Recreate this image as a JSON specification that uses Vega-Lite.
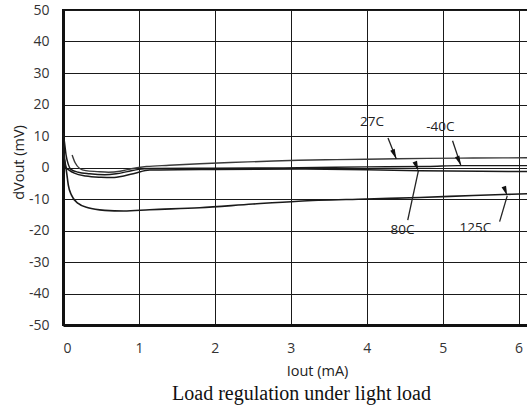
{
  "$schema": "https://vega.github.io/schema/vega-lite/v6.json",
  "autosize": "none",
  "padding": {"left": 63, "top": 10, "right": 0, "bottom": 85},
  "width": 467,
  "height": 315,
  "background": "white",
  "title": {
    "text": "Load regulation under light load",
    "orient": "bottom",
    "anchor": "middle",
    "font": "Liberation Serif",
    "fontSize": 20,
    "fontWeight": "normal",
    "color": "#111111",
    "offset": 6,
    "dx": 5
  },
  "config": {
    "view": {"stroke": "#111111", "strokeWidth": 2},
    "axis": {
      "labelFont": "Open Sans",
      "labelFontSize": 14,
      "labelColor": "#333333",
      "labelOverlap": false,
      "titleFont": "Open Sans",
      "titleFontSize": 14.5,
      "titleFontWeight": "normal",
      "titleColor": "#222222",
      "grid": true,
      "gridColor": "#1a1a1a",
      "gridWidth": 1,
      "gridOpacity": 1,
      "domainColor": "#111111",
      "domainWidth": 3,
      "ticks": false
    }
  },
  "datasets": {
    "curves": [
      {"series": "27C", "I": 0.12, "dV": 4.0},
      {"series": "27C", "I": 0.16, "dV": 1.5},
      {"series": "27C", "I": 0.22, "dV": -0.3},
      {"series": "27C", "I": 0.3, "dV": -1.0},
      {"series": "27C", "I": 0.45, "dV": -1.3},
      {"series": "27C", "I": 0.6, "dV": -1.5},
      {"series": "27C", "I": 0.75, "dV": -1.2},
      {"series": "27C", "I": 0.9, "dV": -0.4},
      {"series": "27C", "I": 1.1, "dV": 0.3},
      {"series": "27C", "I": 1.4, "dV": 0.7},
      {"series": "27C", "I": 1.8, "dV": 1.2},
      {"series": "27C", "I": 2.2, "dV": 1.6},
      {"series": "27C", "I": 2.6, "dV": 1.9},
      {"series": "27C", "I": 3.1, "dV": 2.3},
      {"series": "27C", "I": 3.6, "dV": 2.5},
      {"series": "27C", "I": 4.2, "dV": 2.7},
      {"series": "27C", "I": 4.8, "dV": 2.9},
      {"series": "27C", "I": 5.4, "dV": 3.0},
      {"series": "27C", "I": 6.15, "dV": 3.1},

      {"series": "-40C", "I": 0.0, "dV": 11.0},
      {"series": "-40C", "I": 0.02, "dV": 8.0},
      {"series": "-40C", "I": 0.04, "dV": 4.0},
      {"series": "-40C", "I": 0.07, "dV": 1.0},
      {"series": "-40C", "I": 0.1, "dV": -0.5},
      {"series": "-40C", "I": 0.2, "dV": -1.5},
      {"series": "-40C", "I": 0.35, "dV": -2.0},
      {"series": "-40C", "I": 0.55, "dV": -2.3},
      {"series": "-40C", "I": 0.7, "dV": -2.0},
      {"series": "-40C", "I": 0.85, "dV": -1.3},
      {"series": "-40C", "I": 1.0, "dV": -0.6},
      {"series": "-40C", "I": 1.14, "dV": -0.3},
      {"series": "-40C", "I": 2.0, "dV": -0.2},
      {"series": "-40C", "I": 3.1, "dV": -0.1},
      {"series": "-40C", "I": 4.0, "dV": 0.2},
      {"series": "-40C", "I": 4.8, "dV": 0.3},
      {"series": "-40C", "I": 5.2, "dV": 0.6},
      {"series": "-40C", "I": 6.15, "dV": 0.6},

      {"series": "80C", "I": 0.0, "dV": 6.0},
      {"series": "80C", "I": 0.02, "dV": 2.0},
      {"series": "80C", "I": 0.04, "dV": 0.0},
      {"series": "80C", "I": 0.08, "dV": -0.8},
      {"series": "80C", "I": 0.15, "dV": -1.8},
      {"series": "80C", "I": 0.3, "dV": -2.7},
      {"series": "80C", "I": 0.5, "dV": -3.1},
      {"series": "80C", "I": 0.65, "dV": -3.2},
      {"series": "80C", "I": 0.8, "dV": -2.7},
      {"series": "80C", "I": 0.95, "dV": -1.8},
      {"series": "80C", "I": 1.14, "dV": -0.8},
      {"series": "80C", "I": 2.0, "dV": -0.6},
      {"series": "80C", "I": 3.1, "dV": -0.5},
      {"series": "80C", "I": 4.0, "dV": -0.7},
      {"series": "80C", "I": 4.7, "dV": -1.0},
      {"series": "80C", "I": 5.5, "dV": -1.2},
      {"series": "80C", "I": 6.15, "dV": -1.3},

      {"series": "125C", "I": 0.0, "dV": 7.0},
      {"series": "125C", "I": 0.02, "dV": 3.0},
      {"series": "125C", "I": 0.05, "dV": -2.0},
      {"series": "125C", "I": 0.07, "dV": -5.6},
      {"series": "125C", "I": 0.11, "dV": -8.7},
      {"series": "125C", "I": 0.2, "dV": -11.4},
      {"series": "125C", "I": 0.33, "dV": -12.8},
      {"series": "125C", "I": 0.55, "dV": -13.6},
      {"series": "125C", "I": 0.8, "dV": -13.8},
      {"series": "125C", "I": 1.14, "dV": -13.4},
      {"series": "125C", "I": 1.8, "dV": -12.8},
      {"series": "125C", "I": 2.5, "dV": -11.6},
      {"series": "125C", "I": 3.1, "dV": -10.7},
      {"series": "125C", "I": 4.0, "dV": -10.0},
      {"series": "125C", "I": 4.7, "dV": -9.5},
      {"series": "125C", "I": 5.4, "dV": -8.9},
      {"series": "125C", "I": 6.15, "dV": -8.3}
    ],
    "callouts": [
      {"label": "27C", "lx": 4.07, "ly": 14.4, "x1": 4.28, "y1": 9.4, "x2": 4.39, "y2": 2.7},
      {"label": "-40C", "lx": 4.97, "ly": 13.0, "x1": 5.13, "y1": 8.5, "x2": 5.24, "y2": 0.6},
      {"label": "80C", "lx": 4.47, "ly": -19.8, "x1": 4.54, "y1": -16.7, "x2": 4.68, "y2": -1.1},
      {"label": "125C", "lx": 5.43, "ly": -19.3, "x1": 5.75, "y1": -17.2, "x2": 5.85, "y2": -9.0}
    ]
  },
  "layer": [
    {
      "data": {"name": "curves"},
      "mark": {"type": "line", "interpolate": "monotone", "clip": true},
      "encoding": {
        "x": {
          "field": "I", "type": "quantitative",
          "scale": {"domain": [0, 6.15], "nice": false, "zero": false},
          "axis": {"values": [0, 1, 2, 3, 4, 5, 6], "labelExpr": "'' + datum.value", "title": "Iout (mA)", "labelPadding": 16, "titleX": 254, "titleY": 46, "titleBaseline": "middle"}
        },
        "y": {
          "field": "dV", "type": "quantitative",
          "scale": {"domain": [-50, 50], "nice": false},
          "axis": {"values": [-50, -40, -30, -20, -10, 0, 10, 20, 30, 40, 50], "labelExpr": "'' + datum.value", "title": "dVout (mV)", "labelPadding": 14, "titleX": -44, "titleY": 152, "titleBaseline": "middle", "titleAlign": "center", "titleAngle": -90}
        },
        "detail": {"field": "series"},
        "color": {"field": "series", "type": "nominal", "legend": null,
          "scale": {"domain": ["27C", "-40C", "80C", "125C"], "range": ["#3a3a3a", "#1a1a1a", "#1a1a1a", "#1a1a1a"]}},
        "strokeWidth": {"field": "series", "type": "nominal", "legend": null,
          "scale": {"domain": ["27C", "-40C", "80C", "125C"], "range": [1.4, 1.6, 1.8, 2.4]}}
      }
    },
    {
      "data": {"name": "callouts"},
      "mark": {"type": "rule", "color": "#222222", "strokeWidth": 1.3},
      "encoding": {
        "x": {"field": "x1", "type": "quantitative",
          "axis": {"values": [0, 1, 2, 3, 4, 5, 6], "labelExpr": "'' + datum.value", "title": "Iout (mA)", "labelPadding": 16, "titleX": 254, "titleY": 46, "titleBaseline": "middle"}},
        "y": {"field": "y1", "type": "quantitative",
          "axis": {"values": [-50, -40, -30, -20, -10, 0, 10, 20, 30, 40, 50], "labelExpr": "'' + datum.value", "title": "dVout (mV)", "labelPadding": 14, "titleX": -44, "titleY": 152, "titleBaseline": "middle", "titleAlign": "center", "titleAngle": -90}},
        "x2": {"field": "x2"},
        "y2": {"field": "y2"}
      }
    },
    {
      "data": {"name": "callouts"},
      "mark": {"type": "point", "filled": true, "color": "#111111", "opacity": 1,
        "shape": "M0,0L-0.6,-2.5L0.6,-2.5Z", "size": 64},
      "encoding": {
        "x": {"field": "x2", "type": "quantitative",
          "axis": {"values": [0, 1, 2, 3, 4, 5, 6], "labelExpr": "'' + datum.value", "title": "Iout (mA)", "labelPadding": 16, "titleX": 254, "titleY": 46, "titleBaseline": "middle"}},
        "y": {"field": "y2", "type": "quantitative",
          "axis": {"values": [-50, -40, -30, -20, -10, 0, 10, 20, 30, 40, 50], "labelExpr": "'' + datum.value", "title": "dVout (mV)", "labelPadding": 14, "titleX": -44, "titleY": 152, "titleBaseline": "middle", "titleAlign": "center", "titleAngle": -90}},
        "angle": {"field": "label", "type": "nominal", "legend": null,
          "scale": {"domain": ["27C", "-40C", "80C", "125C"], "range": [-23, -20, 192, 195]}}
      }
    },
    {
      "data": {"name": "callouts"},
      "mark": {"type": "text", "font": "Open Sans", "fontSize": 13.5, "color": "#222222", "align": "center", "baseline": "middle"},
      "encoding": {
        "x": {"field": "lx", "type": "quantitative",
          "axis": {"values": [0, 1, 2, 3, 4, 5, 6], "labelExpr": "'' + datum.value", "title": "Iout (mA)", "labelPadding": 16, "titleX": 254, "titleY": 46, "titleBaseline": "middle"}},
        "y": {"field": "ly", "type": "quantitative",
          "axis": {"values": [-50, -40, -30, -20, -10, 0, 10, 20, 30, 40, 50], "labelExpr": "'' + datum.value", "title": "dVout (mV)", "labelPadding": 14, "titleX": -44, "titleY": 152, "titleBaseline": "middle", "titleAlign": "center", "titleAngle": -90}},
        "text": {"field": "label"}
      }
    }
  ]
}
